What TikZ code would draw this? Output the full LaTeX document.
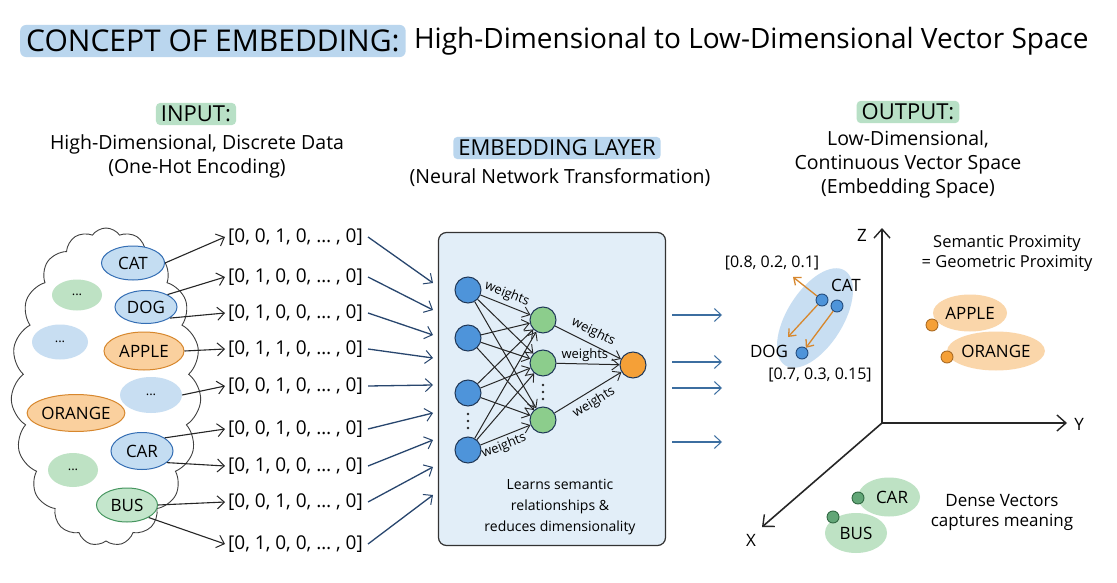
\documentclass[tikz,border=0pt]{standalone}
\usepackage{fontspec}
\setmainfont{Open Sans}
\usetikzlibrary{arrows.meta,shapes.symbols,shapes.geometric}
\definecolor{titlebox}{RGB}{186,214,238}
\definecolor{greenbox}{RGB}{184,224,198}
\definecolor{bluefill}{RGB}{196,221,242}
\definecolor{blueline}{RGB}{52,110,180}
\definecolor{greenfill}{RGB}{196,230,204}
\definecolor{greenline}{RGB}{70,150,95}
\definecolor{orangefill}{RGB}{250,208,158}
\definecolor{orangeline}{RGB}{215,135,45}
\definecolor{layerfill}{RGB}{226,238,248}
\definecolor{navy}{RGB}{40,70,110}
\definecolor{steel}{RGB}{60,110,160}
\definecolor{nnblue}{RGB}{78,148,218}
\definecolor{nngreen}{RGB}{140,205,140}
\definecolor{nnorange}{RGB}{245,160,55}
\definecolor{softblue}{RGB}{200,222,242}
\definecolor{softgreen}{RGB}{190,226,196}
\definecolor{softorange}{RGB}{250,214,170}
\begin{document}
\begin{tikzpicture}[x=1pt,y=-1pt,
  font=\fontsize{17}{20}\selectfont,
  hdr/.style={rounded corners=4pt, inner xsep=5pt, inner ysep=3pt, font=\fontsize{22}{25}\selectfont},
  sub/.style={font=\fontsize{19.5}{24}\selectfont, align=center},
  word/.style={ellipse, draw, line width=1pt, inner sep=0pt, font=\fontsize{17}{20}\selectfont},
  wblue/.style={word, fill=bluefill, draw=blueline},
  wgreen/.style={word, fill=greenfill, draw=greenline},
  worange/.style={word, fill=orangefill, draw=orangeline},
  dblue/.style={ellipse, fill=softblue, inner sep=0pt, font=\fontsize{13}{15}\selectfont},
  dgreen/.style={ellipse, fill=softgreen, inner sep=0pt, font=\fontsize{13}{15}\selectfont},
  vec/.style={anchor=west, inner sep=0pt, font=\fontsize{19}{22}\selectfont},
  barb/.style={-{Straight Barb[length=7pt,width=13pt,line width=1pt]}},
  inarrow/.style={barb, line width=1.1pt, draw=black!85},
  toLayer/.style={barb, line width=1.3pt, draw=navy},
  outarrow/.style={barb, line width=1.6pt, draw=steel},
  neuron/.style={circle, draw=navy!80!black, line width=1pt, minimum size=26pt, inner sep=0pt},
  nnedge/.style={-{Straight Barb[length=7pt,width=11pt,line width=0.9pt]}, line width=1pt, draw=black!85},
  wlab/.style={font=\fontsize{13}{15}\selectfont, inner sep=1pt},
  axis/.style={-{Straight Barb[length=9pt,width=16pt,line width=1.4pt]}, line width=1.6pt, draw=black!85},
  pt/.style={circle, minimum size=12pt, inner sep=0pt, line width=0.9pt},
  dotc/.style={circle, fill=black!85, inner sep=0pt, minimum size=2.6pt}
]
\useasboundingbox (0,0) rectangle (1117,583);
\fill[white] (0,0) rectangle (1117,583);

% ---------- title ----------
\node[fill=titlebox, rounded corners=6pt, inner xsep=6pt, inner ysep=5pt,
      font=\fontsize{30}{32}\selectfont, anchor=west] (t1) at (20,41) {CONCEPT OF EMBEDDING:};
\node[anchor=west, inner sep=0pt, font=\fontsize{28}{31}\selectfont] (t2) at ([xshift=8pt]t1.east) {High-Dimensional to Low-Dimensional Vector Space};

% ---------- headers ----------
\node[hdr, fill=greenbox] (inH) at (196,114) {INPUT:};
\node[sub] (inS) at (197,156) {High-Dimensional, Discrete Data\\(One-Hot Encoding)};
\node[hdr, fill=titlebox] (emH) at (557,148) {EMBEDDING LAYER};
\node[sub] (emS) at (560,178) {(Neural Network Transformation)};
\node[hdr, fill=greenbox] (outH) at (908,112) {OUTPUT:};
\node[sub] (outS) at (908,164) {Low-Dimensional,\\Continuous Vector Space\\(Embedding Space)};

% ---------- cloud ----------
\node[cloud, draw=black!75, line width=0.9pt, cloud puffs=19, cloud puff arc=110,
      minimum width=190pt, minimum height=318pt, aspect=0.6] (cloud) at (106,387) {};

\node[wblue, minimum width=63pt, minimum height=34pt] (cat) at (133,263) {CAT};
\node[wblue, minimum width=62pt, minimum height=33pt] (dog) at (146,307) {DOG};
\node[dgreen, minimum width=50pt, minimum height=31pt] (d1) at (77,295) {...};
\node[dblue, minimum width=56pt, minimum height=35pt] (d2) at (60,342) {...};
\node[worange, minimum width=80pt, minimum height=38pt] (apple) at (144,351) {APPLE};
\node[dblue, minimum width=62pt, minimum height=36pt] (d3) at (151,395) {...};
\node[worange, minimum width=94pt, minimum height=37pt] (orange) at (76,413) {ORANGE};
\node[wblue, minimum width=62pt, minimum height=37pt] (car) at (142,451) {CAR};
\node[dgreen, minimum width=50pt, minimum height=34pt] (d4) at (73,470) {...};
\node[wgreen, minimum width=61pt, minimum height=34pt] (bus) at (127,505) {BUS};

% ---------- one-hot vectors ----------
\node[vec] (v1) at (228,237) {[0, 0, 1, 0, … , 0]};
\node[vec] (v2) at (228,277) {[0, 1, 0, 0, … , 0]};
\node[vec] (v3) at (228,313) {[0, 1, 0, 0, … , 0]};
\node[vec] (v4) at (228,349) {[0, 1, 1, 0, … , 0]};
\node[vec] (v5) at (228,386) {[0, 0, 1, 0, … , 0]};
\node[vec] (v6) at (228,429) {[0, 0, 1, 0, … , 0]};
\node[vec] (v7) at (228,466) {[0, 1, 0, 0, … , 0]};
\node[vec] (v8) at (228,502) {[0, 0, 1, 0, … , 0]};
\node[vec] (v9) at (228,544) {[0, 1, 0, 0, … , 0]};

\draw[inarrow] (cat.east) -- ([xshift=-3pt]v1.west);
\draw[inarrow] (dog.30) -- ([xshift=-3pt]v2.west);
\draw[inarrow] (dog.-25) -- ([xshift=-3pt]v3.west);
\draw[inarrow] (apple.east) -- ([xshift=-3pt]v4.west);
\draw[inarrow] (d3.east) -- ([xshift=-3pt]v5.west);
\draw[inarrow] (car.30) -- ([xshift=-3pt]v6.west);
\draw[inarrow] (car.-25) -- ([xshift=-3pt]v7.west);
\draw[inarrow] (bus.east) -- ([xshift=-3pt]v8.west);
\draw[inarrow] (bus.-30) -- ([xshift=-3pt]v9.west);

% ---------- embedding layer box ----------
\node[draw=black!80, line width=1.2pt, fill=layerfill, rounded corners=8pt,
      minimum width=227pt, minimum height=313pt, inner sep=0pt] (layer) at (552,389) {};

\foreach \i/\y in {1/283,2/310,3/335,4/358,5/385,6/413,7/440,8/467,9/495}
  \coordinate (b\i) at (433,\y);
\foreach \i in {1,...,9}
  \draw[toLayer] ([xshift=5pt]v\i.east) -- (b\i);

% neural net
\node[neuron, fill=nnblue] (i1) at (468,290) {};
\node[neuron, fill=nnblue] (i2) at (468,338) {};
\node[neuron, fill=nnblue] (i3) at (468,393) {};
\node[neuron, fill=nnblue] (i4) at (468,450) {};
\node[neuron, fill=nngreen] (h1) at (543,320) {};
\node[neuron, fill=nngreen] (h2) at (543,363) {};
\node[neuron, fill=nngreen] (h3) at (543,420) {};
\node[neuron, fill=nnorange] (o1) at (633,365) {};
\foreach \k/\y in {a/414,b/421,c/428} \node[dotc] (id\k) at (468,\y) {};
\foreach \k/\y in {a/385,b/392,c/399} \node[dotc] (hd\k) at (543,\y) {};

\foreach \a in {1,2,3,4}
  \foreach \b in {1,2,3}
    \draw[nnedge] (i\a) -- (h\b);
\draw[nnedge] (h1) -- (o1);
\draw[nnedge] (h2) -- (o1);
\draw[nnedge] (h3) -- (o1);

\path (i1) -- (h1) node[wlab, pos=0.45, sloped, above=3pt] (w1) {weights};
\path (i4) -- (h3) node[wlab, pos=0.4, sloped, below=2pt] (w2) {weights};
\path (h1) -- (o1) node[wlab, midway, sloped, above=4pt] (w3) {weights};
\path (h2) -- (o1) node[wlab, pos=0.45, above=1pt] (w4) {weights};
\path (h3) -- (o1) node[wlab, midway, sloped, below=4pt] (w5) {weights};

\node[align=center, font=\fontsize{14}{21}\selectfont] (learn) at (560,507) {Learns semantic\\relationships \&\\reduces dimensionality};

% ---------- output arrows ----------
\foreach \i/\y in {1/315,2/362,3/388,4/442} {
  \coordinate (oa\i) at (672,\y);
  \coordinate (ob\i) at (722,\y);
  \draw[outarrow] (oa\i) -- (ob\i);
}

% ---------- 3D axes ----------
\coordinate (O) at (882,423);
\coordinate (zt) at (882,228);
\coordinate (yt) at (1067,423);
\coordinate (xt) at (762,527);
\draw[axis] (O) -- (zt);
\draw[axis] (O) -- (yt);
\draw[axis] (O) -- (xt);
\node (zl) at (862,235) {Z};
\node (yl) at (1079,424) {Y};
\node (xl) at (751,540) {X};

% cat / dog cluster
\node[ellipse, fill=softblue, minimum width=112pt, minimum height=56pt, rotate=58] (cd) at (815,318) {};
\node[pt, fill=nnblue, draw=blueline!70!black] (pc1) at (822,300) {};
\node[pt, fill=nnblue, draw=blueline!70!black] (pc2) at (837,306) {};
\node[pt, fill=nnblue, draw=blueline!70!black] (pd) at (802,353) {};
\node (catl) at (846,285) {CAT};
\node (dogl) at (769,351) {DOG};
\node[font=\fontsize{16}{19}\selectfont] (c1) at (772,263) {[0.8, 0.2, 0.1]};
\node[font=\fontsize{16}{19}\selectfont] (c2) at (820,375) {[0.7, 0.3, 0.15]};
\coordinate (ca) at (793,277);
\coordinate (cb) at (788,337);
\draw[-{Straight Barb[length=6pt,width=10pt]}, line width=1.3pt, draw=orangeline] (pc1) -- (ca);
\draw[-{Straight Barb[length=6pt,width=10pt]}, line width=1.3pt, draw=orangeline] (pc1) -- (cb);
\draw[-{Straight Barb[length=6pt,width=10pt]}, line width=1.3pt, draw=orangeline] (pc2) -- (pd);

\node[align=center, font=\fontsize{16.5}{20}\selectfont] (sem) at (1007,253) {Semantic Proximity\\= Geometric Proximity};

% fruit cluster
\node[ellipse, fill=softorange, minimum width=74pt, minimum height=37pt, inner sep=0pt] (ap) at (970,313) {APPLE};
\node[ellipse, fill=softorange, minimum width=92pt, minimum height=39pt, inner sep=0pt] (or) at (996,351) {ORANGE};
\node[pt, fill=nnorange, draw=orangeline!80!black] (pap) at (932,325) {};
\node[pt, fill=nnorange, draw=orangeline!80!black] (por) at (947,357) {};

% vehicle cluster
\node[ellipse, fill=softgreen, minimum width=62pt, minimum height=39pt, inner sep=0pt] (cr) at (889,497) {\hspace*{6pt}CAR};
\node[ellipse, fill=softgreen, minimum width=62pt, minimum height=40pt, inner sep=0pt] (bs) at (856,533) {BUS};
\node[pt, fill=greenline!85, draw=greenline!70!black] (pcr) at (858,498) {};
\node[pt, fill=greenline!85, draw=greenline!70!black] (pbs) at (833,517) {};

\node[align=center, font=\fontsize{17}{20}\selectfont] (dense) at (1002,512) {Dense Vectors\\captures meaning};
\end{tikzpicture}
\end{document}
